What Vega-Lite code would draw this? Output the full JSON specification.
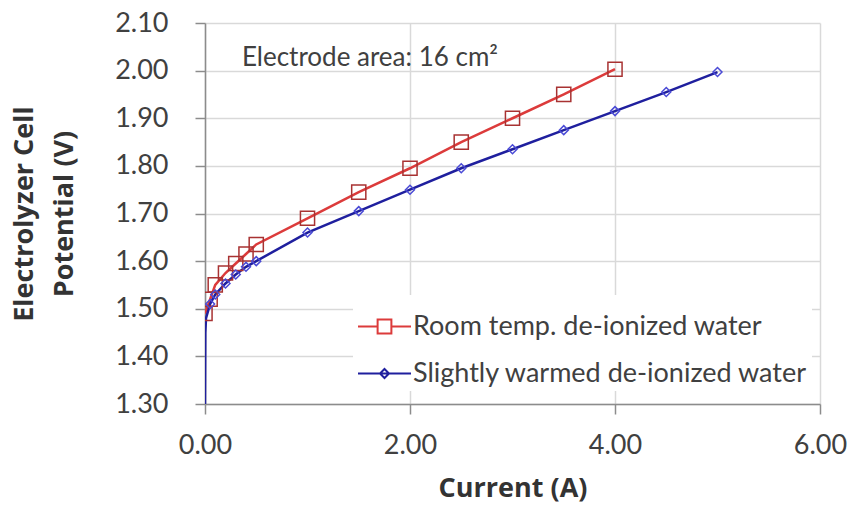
{
  "$schema": "https://vega.github.io/schema/vega-lite/v6.json",
  "width": 615,
  "height": 381,
  "autosize": {"type": "none"},
  "padding": {"left": 205, "top": 23, "right": 33, "bottom": 103},
  "background": "white",
  "config": {
    "font": "Lato",
    "view": {"stroke": null},
    "axis": {
      "labelFont": "Lato",
      "titleFont": "Open Sans",
      "labelFontSize": 27,
      "titleFontSize": 27,
      "labelColor": "#404040",
      "titleColor": "#333333",
      "titleFontWeight": "bold",
      "gridColor": "#d9d9d9",
      "gridWidth": 1.5,
      "domainColor": "#8c8c8c",
      "domainWidth": 1.5,
      "tickColor": "#8c8c8c",
      "tickSize": 10,
      "tickWidth": 1.5,
      "labelFlush": false,
      "labelOverlap": false
    }
  },
  "datasets": {
    "curves": [
      {"current": 0.0, "potential": 1.49, "series": "Room temp. de-ionized water"},
      {"current": 0.05, "potential": 1.52, "series": "Room temp. de-ionized water"},
      {"current": 0.1, "potential": 1.55, "series": "Room temp. de-ionized water"},
      {"current": 0.2, "potential": 1.575, "series": "Room temp. de-ionized water"},
      {"current": 0.3, "potential": 1.595, "series": "Room temp. de-ionized water"},
      {"current": 0.4, "potential": 1.615, "series": "Room temp. de-ionized water"},
      {"current": 0.5, "potential": 1.635, "series": "Room temp. de-ionized water"},
      {"current": 1.0, "potential": 1.69, "series": "Room temp. de-ionized water"},
      {"current": 1.5, "potential": 1.745, "series": "Room temp. de-ionized water"},
      {"current": 2.0, "potential": 1.795, "series": "Room temp. de-ionized water"},
      {"current": 2.5, "potential": 1.85, "series": "Room temp. de-ionized water"},
      {"current": 3.0, "potential": 1.90, "series": "Room temp. de-ionized water"},
      {"current": 3.5, "potential": 1.95, "series": "Room temp. de-ionized water"},
      {"current": 4.0, "potential": 2.003, "series": "Room temp. de-ionized water"},
      {"current": 0.0, "potential": 1.30, "series": "Slightly warmed de-ionized water"},
      {"current": 0.003, "potential": 1.45, "series": "Slightly warmed de-ionized water"},
      {"current": 0.01, "potential": 1.48, "series": "Slightly warmed de-ionized water"},
      {"current": 0.05, "potential": 1.51, "series": "Slightly warmed de-ionized water"},
      {"current": 0.1, "potential": 1.53, "series": "Slightly warmed de-ionized water"},
      {"current": 0.2, "potential": 1.553, "series": "Slightly warmed de-ionized water"},
      {"current": 0.3, "potential": 1.572, "series": "Slightly warmed de-ionized water"},
      {"current": 0.4, "potential": 1.588, "series": "Slightly warmed de-ionized water"},
      {"current": 0.5, "potential": 1.60, "series": "Slightly warmed de-ionized water"},
      {"current": 1.0, "potential": 1.66, "series": "Slightly warmed de-ionized water"},
      {"current": 1.5, "potential": 1.705, "series": "Slightly warmed de-ionized water"},
      {"current": 2.0, "potential": 1.75, "series": "Slightly warmed de-ionized water"},
      {"current": 2.5, "potential": 1.795, "series": "Slightly warmed de-ionized water"},
      {"current": 3.0, "potential": 1.835, "series": "Slightly warmed de-ionized water"},
      {"current": 3.5, "potential": 1.875, "series": "Slightly warmed de-ionized water"},
      {"current": 4.0, "potential": 1.915, "series": "Slightly warmed de-ionized water"},
      {"current": 4.5, "potential": 1.955, "series": "Slightly warmed de-ionized water"},
      {"current": 5.0, "potential": 1.997, "series": "Slightly warmed de-ionized water"}
    ],
    "note": [
      {"current": 0.36, "potential": 2.027, "label": "Electrode area: 16 cm²"}
    ]
  },
  "layer": [
    {
      "data": {"name": "curves"},
      "mark": {"type": "line", "strokeWidth": 2.5, "clip": true},
      "encoding": {
        "x": {"field": "current", "type": "quantitative",
              "scale": {"domain": [0, 6], "nice": false},
              "axis": {"values": [0, 2, 4, 6], "format": ".2f", "title": "Current (A)", "labelPadding": 18, "titlePadding": 17}},
        "y": {"field": "potential", "type": "quantitative",
              "scale": {"domain": [1.3, 2.1], "nice": false, "zero": false},
              "axis": {"values": [1.3, 1.4, 1.5, 1.6, 1.7, 1.8, 1.9, 2.0, 2.1], "format": ".2f", "title": ["Electrolyzer Cell", "Potential (V)"], "labelPadding": 27, "titlePadding": 36, "titleLineHeight": 40}},
        "color": {"field": "series", "type": "nominal",
                  "scale": {"domain": ["Room temp. de-ionized water", "Slightly warmed de-ionized water"], "range": ["#dc3b3b", "#1f1f9e"]},
                  "legend": {
                    "title": null, "orient": "none", "legendX": 148, "legendY": 272,
                    "labelFont": "Lato", "labelFontSize": 27, "labelColor": "#404040",
                    "symbolSize": 2809, "symbolStrokeWidth": 2, "symbolFillColor": "transparent",
                    "rowPadding": 6, "labelOffset": 1,
                    "fillColor": "white", "padding": 4, "labelLimit": 500,
                    "encode": {
                      "symbols": {
                        "update": {
                          "shape": {"signal": "datum.value == 'Room temp. de-ionized water' ? 'M-1,0H-0.26M0.26,0H1M-0.26,-0.26H0.26V0.26H-0.26Z' : 'M-1,0H1M0,-0.17L0.17,0L0,0.17L-0.17,0Z'"},
                          "fill": {"value": "transparent"}
                        }
                      }
                    }
                  }},
        "order": {"field": "current", "type": "quantitative"}
      }
    },
    {
      "data": {"name": "curves"},
      "transform": [{"filter": "datum.series == 'Room temp. de-ionized water'"}],
      "mark": {"type": "point", "shape": "square", "filled": false, "size": 200, "stroke": "#a83232", "strokeWidth": 1.5, "opacity": 1, "clip": true},
      "encoding": {
        "x": {"field": "current", "type": "quantitative"},
        "y": {"field": "potential", "type": "quantitative"}
      }
    },
    {
      "data": {"name": "curves"},
      "transform": [{"filter": "datum.series == 'Slightly warmed de-ionized water' && datum.potential >= 1.45 && (datum.current == 0 || datum.current >= 0.05)"}],
      "mark": {"type": "point", "shape": "diamond", "filled": false, "size": 80, "stroke": "#4b4bd6", "strokeWidth": 1.5, "opacity": 1, "clip": true},
      "encoding": {
        "x": {"field": "current", "type": "quantitative"},
        "y": {"field": "potential", "type": "quantitative"}
      }
    },
    {
      "data": {"name": "note"},
      "mark": {"type": "text", "align": "left", "baseline": "middle", "font": "Lato", "fontSize": 26, "color": "#404040"},
      "encoding": {
        "x": {"field": "current", "type": "quantitative"},
        "y": {"field": "potential", "type": "quantitative"},
        "text": {"field": "label"}
      }
    }
  ]
}
